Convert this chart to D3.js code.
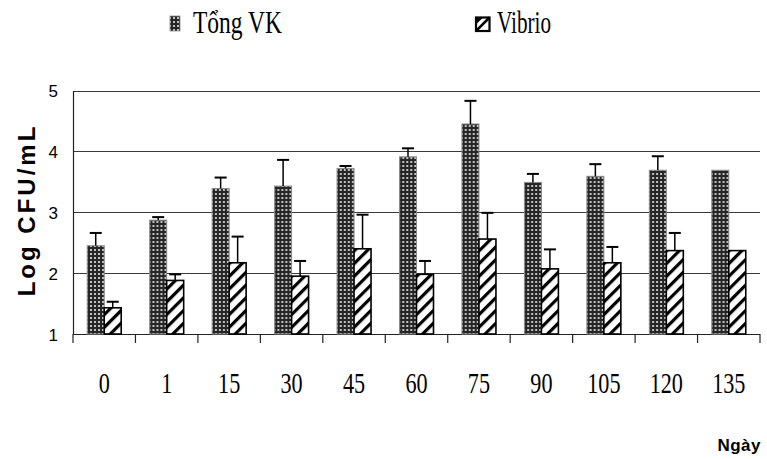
<!DOCTYPE html>
<html>
<head>
<meta charset="utf-8">
<script src="https://cdn.jsdelivr.net/npm/d3@7"></script>
<style>
  html, body { margin: 0; padding: 0; background: #fff; }
  svg { display: block; }
</style>
</head>
<body>
<svg id="chart" width="767" height="459"></svg>
<script>
// Sampling days
const days = ["0", "1", "15", "30", "45", "60", "75", "90", "105", "120", "135"];
// Total bacteria (Log CFU/mL) and upper error bound
const tongVK = [2.45, 2.87, 3.39, 3.43, 3.72, 3.91, 4.45, 3.49, 3.59, 3.69, 3.69];
const tongVKErr = [0.21, 0.05, 0.18, 0.43, 0.04, 0.14, 0.38, 0.14, 0.20, 0.23, 0];
// Vibrio (Log CFU/mL) and upper error bound
const vibrio = [1.43, 1.88, 2.17, 1.95, 2.40, 1.98, 2.56, 2.07, 2.17, 2.37, 2.37];
const vibrioErr = [0.10, 0.10, 0.43, 0.25, 0.56, 0.22, 0.43, 0.32, 0.26, 0.29, 0];
const seriesNames = ["Tổng VK", "Vibrio"];
const yTicks = [1, 2, 3, 4, 5];

const svg = d3.select("#chart");
const plotLeft = 73, plotRight = 760, plotTop = 90.5, plotBottom = 334;

// Fill patterns: dotted dark fill for total bacteria, diagonal hatch for Vibrio
const defs = svg.append("defs");
const dots = defs.append("pattern").attr("id", "dots")
  .attr("patternUnits", "userSpaceOnUse").attr("width", 4).attr("height", 4);
dots.append("rect").attr("width", 4).attr("height", 4).attr("fill", "#262626");
dots.append("rect").attr("x", 1).attr("y", 1).attr("width", 2).attr("height", 2).attr("fill", "#c0c0c0");

const hatch = defs.append("pattern").attr("id", "hatch")
  .attr("patternUnits", "userSpaceOnUse").attr("width", 9).attr("height", 9)
  .attr("patternTransform", "rotate(45)");
hatch.append("rect").attr("width", 9).attr("height", 9).attr("fill", "#fff");
hatch.append("rect").attr("x", 0).attr("y", 0).attr("width", 3.2).attr("height", 9).attr("fill", "#000");

const x = d3.scaleBand().domain(days).range([plotLeft, plotRight]).paddingInner(0).paddingOuter(0);
const xs = d3.scaleBand().domain(seriesNames).range([0, x.bandwidth()]).paddingInner(0).paddingOuter(0.838);
const y = d3.scaleLinear().domain([1, 5]).range([plotBottom, plotTop]);

// Horizontal grid lines
svg.append("g").selectAll("line").data(yTicks.filter(d => d > 1)).join("line")
  .attr("x1", plotLeft).attr("x2", plotRight)
  .attr("y1", d => Math.round(y(d)) + 0.5).attr("y2", d => Math.round(y(d)) + 0.5)
  .attr("stroke", "#3a3a3a").attr("stroke-width", 1);

// Y axis
const yAxis = svg.append("g").attr("transform", `translate(${plotLeft},0)`)
  .call(d3.axisLeft(y).tickValues(yTicks).tickSize(0).tickPadding(15).tickFormat(d3.format("d")));
yAxis.select(".domain").attr("stroke", "#222").attr("stroke-width", 1.2);
yAxis.selectAll("text").attr("font-family", "Liberation Sans, Arial, sans-serif")
  .attr("font-size", 17).attr("fill", "#000").attr("dy", "0.36em");

// X axis with ticks on category boundaries
const xAxisG = svg.append("g").attr("transform", `translate(0,${plotBottom})`);
xAxisG.append("line").attr("x1", plotLeft).attr("x2", plotRight).attr("y1", 0.5).attr("y2", 0.5)
  .attr("stroke", "#222").attr("stroke-width", 1.2);
const boundaries = days.map(d => x(d)).concat([x(days[days.length - 1]) + x.bandwidth()]);
xAxisG.selectAll("line.tick").data(boundaries).join("line").attr("class", "tick")
  .attr("x1", d => d).attr("x2", d => d).attr("y1", 0).attr("y2", 9)
  .attr("stroke", "#222").attr("stroke-width", 1.2);
xAxisG.selectAll("text").data(days).join("text")
  .attr("transform", d => `translate(${x(d) + x.bandwidth() / 2},59) scale(0.74,1)`)
  .attr("text-anchor", "middle")
  .attr("font-family", "Liberation Serif, Times New Roman, serif")
  .attr("font-size", 30).attr("fill", "#000").text(d => d);

// Bars
const rows = days.map((d, i) => ({
  day: d,
  vals: [
    { s: seriesNames[0], v: tongVK[i], e: tongVKErr[i] },
    { s: seriesNames[1], v: vibrio[i], e: vibrioErr[i] }
  ]
}));
const groups = svg.append("g").selectAll("g").data(rows).join("g")
  .attr("transform", d => `translate(${x(d.day)},0)`);
groups.selectAll("rect").data(d => d.vals).join("rect")
  .attr("x", d => xs(d.s)).attr("width", xs.bandwidth())
  .attr("y", d => y(d.v)).attr("height", d => y(1) - y(d.v))
  .attr("fill", d => d.s === seriesNames[0] ? "url(#dots)" : "url(#hatch)")
  .attr("stroke", d => d.s === seriesNames[0] ? "#8a8a8a" : "#000")
  .attr("stroke-width", d => d.s === seriesNames[0] ? 1 : 1.6);

// Upper error bars
const errs = groups.selectAll("g.err").data(d => d.vals.filter(v => v.e > 0)).join("g").attr("class", "err");
errs.append("line")
  .attr("x1", d => xs(d.s) + xs.bandwidth() / 2).attr("x2", d => xs(d.s) + xs.bandwidth() / 2)
  .attr("y1", d => y(d.v)).attr("y2", d => y(d.v + d.e))
  .attr("stroke", "#000").attr("stroke-width", 1.5);
errs.append("line")
  .attr("x1", d => xs(d.s) + xs.bandwidth() / 2 - 6).attr("x2", d => xs(d.s) + xs.bandwidth() / 2 + 6)
  .attr("y1", d => y(d.v + d.e)).attr("y2", d => y(d.v + d.e))
  .attr("stroke", "#000").attr("stroke-width", 2);

// Y axis title
svg.append("text")
  .attr("transform", "translate(35,210) rotate(-90)")
  .attr("text-anchor", "middle")
  .attr("font-family", "Liberation Sans, Arial, sans-serif")
  .attr("font-weight", "bold").attr("font-size", 24)
  .attr("letter-spacing", 3)
  .attr("fill", "#000").text("Log CFU/mL");

// X axis title
svg.append("text")
  .attr("x", 761).attr("y", 451).attr("text-anchor", "end")
  .attr("font-family", "Liberation Sans, Arial, sans-serif")
  .attr("font-weight", "bold").attr("font-size", 17).attr("letter-spacing", 0.5)
  .attr("fill", "#000").text("Ngày");

// Legend
const legend = svg.append("g");
legend.append("rect").attr("x", 170).attr("y", 16).attr("width", 10).attr("height", 15)
  .attr("fill", "url(#dots)").attr("stroke", "#8a8a8a").attr("stroke-width", 0.8);
legend.append("text").attr("x", 193).attr("y", 33)
  .attr("textLength", 89).attr("lengthAdjust", "spacingAndGlyphs")
  .attr("font-family", "Liberation Serif, Times New Roman, serif")
  .attr("font-size", 31).attr("fill", "#000").text(seriesNames[0]);
legend.append("rect").attr("x", 476).attr("y", 17.5).attr("width", 13.5).attr("height", 13.5)
  .attr("fill", "#fff").attr("stroke", "#000").attr("stroke-width", 2.2);
legend.append("line").attr("x1", 476).attr("y1", 31).attr("x2", 489.5).attr("y2", 17.5)
  .attr("stroke", "#000").attr("stroke-width", 2.5);
legend.append("path").attr("d", "M476,17.5 L483,17.5 L476,24.5 Z").attr("fill", "#000");
legend.append("text").attr("x", 497).attr("y", 33)
  .attr("textLength", 54).attr("lengthAdjust", "spacingAndGlyphs")
  .attr("font-family", "Liberation Serif, Times New Roman, serif")
  .attr("font-size", 31).attr("fill", "#000").text(seriesNames[1]);
</script>
</body>
</html>
